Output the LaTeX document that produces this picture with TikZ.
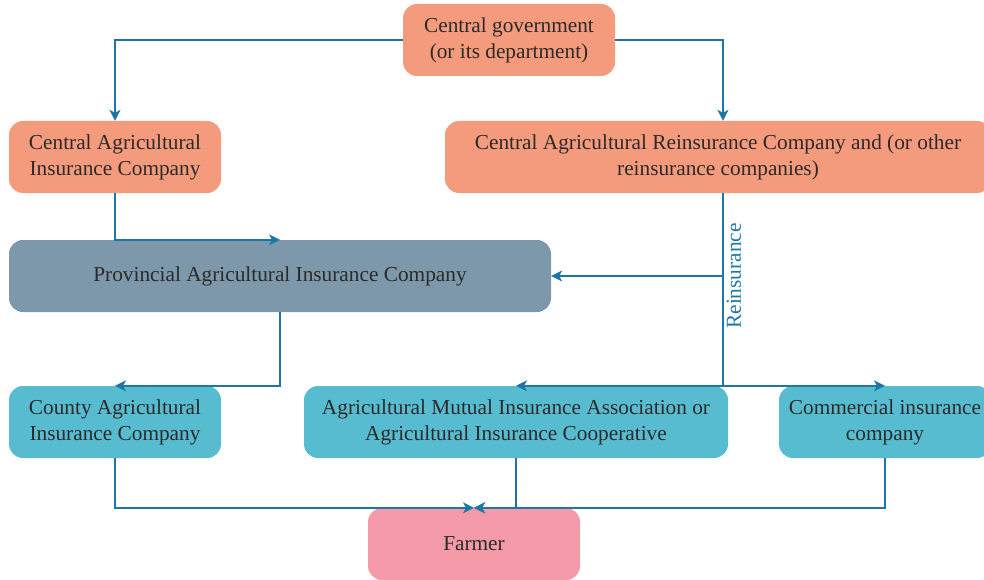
\documentclass[tikz,border=0pt]{standalone}
\usepackage{fontspec}
\setmainfont{Liberation Serif}
\usetikzlibrary{arrows.meta,calc}

\definecolor{salmon}{HTML}{F59B7D}
\definecolor{slate}{HTML}{7D97AB}
\definecolor{teal}{HTML}{58BCD0}
\definecolor{rose}{HTML}{F49AA8}
\definecolor{flow}{HTML}{1C77A7}
\definecolor{ink}{HTML}{2B2A29}

\tikzset{
  box/.style={rounded corners=14pt, draw=none, align=center, text=ink,
    font=\fontsize{21.3}{26}\selectfont, inner sep=0pt},
  link/.style={draw=flow, line width=1.4pt,
    -{Stealth[length=11pt,width=11pt,inset=3pt]}},
  plain/.style={draw=flow, line width=1.4pt},
}

\begin{document}
\begin{tikzpicture}[x=1pt,y=-1pt]
\useasboundingbox (0,0) rectangle (984,580);
\clip (0,0) rectangle (984,580);

% organisations
\node[box, fill=salmon, minimum width=212pt, minimum height=72pt] (gov) at (509,40)
  {Central government\\(or its department)};
\node[box, fill=salmon, minimum width=212pt, minimum height=72pt] (cai) at (115,157)
  {Central Agricultural\\Insurance Company};
\node[box, fill=salmon, minimum width=546pt, minimum height=72pt] (cri) at (718,157)
  {Central Agricultural Reinsurance Company and (or other\\reinsurance companies)};
\node[box, fill=slate, minimum width=542pt, minimum height=72pt] (pro) at (280,276)
  {Provincial Agricultural Insurance Company};
\node[box, fill=teal, minimum width=212pt, minimum height=72pt] (cty) at (115,422)
  {County Agricultural\\Insurance Company};
\node[box, fill=teal, minimum width=424pt, minimum height=72pt] (mut) at (516,422)
  {Agricultural Mutual Insurance Association or\\Agricultural Insurance Cooperative};
\node[box, fill=teal, minimum width=212pt, minimum height=72pt] (com) at (885,422)
  {Commercial insurance\\company};
\node[box, fill=rose, minimum width=212pt, minimum height=72pt] (far) at (474,544)
  {Farmer};

% reinsurance trunk
\coordinate (rtop) at ($(cri.south)+(5,0)$);
\coordinate (rbot) at (rtop |- mut.north);

% flows
\draw[link] (gov.west) -| (cai.north);
\draw[link] (gov.east) -| ($(cri.north)+(5,0)$);
\draw[link] (cai.south) |- (pro.north);
\draw[plain] (rtop) -- (rbot)
  node[pos=0.43, sloped, below, font=\fontsize{21.3}{26}\selectfont, text=flow,
       xscale=-1, yscale=-1, inner sep=3pt] (rlab) {Reinsurance};
\draw[link] (rtop |- pro.east) -- (pro.east);
\draw[link] (rbot) -- (mut.north);
\draw[link] (rbot) -- (com.north);
\draw[link] (pro.south) |- (cty.north);
\draw[link] (cty.south) |- (far.north);
\draw[link] (mut.south) |- (far.north);
\draw[link] (com.south) |- (far.north);
\end{tikzpicture}
\end{document}
